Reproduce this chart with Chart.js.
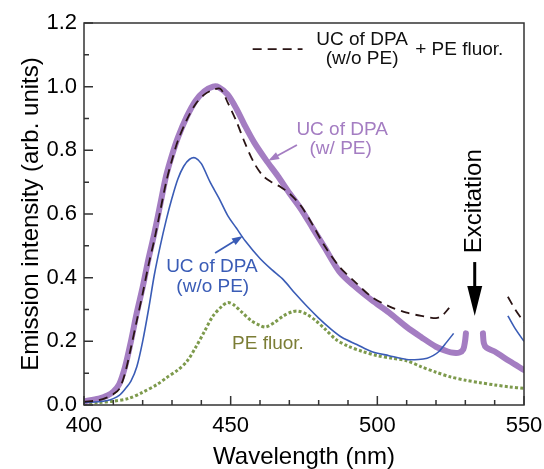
<!DOCTYPE html>
<html>
<head>
<meta charset="utf-8">
<script src="https://cdn.jsdelivr.net/npm/chart.js@4/dist/chart.umd.min.js"></script>
<style>
  html, body { margin: 0; padding: 0; background: #fff; }
  #wrap { width: 544px; height: 469px; position: relative; }
</style>
</head>
<body>
<div id="wrap"><canvas id="spectrum"></canvas></div>
<script>
// UC of DPA (w/ PE) - thick purple
const withPeWl = [400, 405, 408, 410, 412, 414, 416, 418, 420, 422, 424, 426, 428, 430, 432, 435, 438, 441, 444, 446, 449, 452, 455, 458, 462, 466, 470, 474, 478, 482, 487, 492, 498, 504, 510, 515, 520, 524, 526, 528, 529.3, 529.9, 530.2, 533, 536, 536.3, 537.2, 540, 545, 550];
const withPeVal = [0.012, 0.02, 0.03, 0.042, 0.065, 0.12, 0.2, 0.29, 0.37, 0.46, 0.54, 0.63, 0.72, 0.785, 0.84, 0.905, 0.955, 0.985, 1.0, 0.998, 0.975, 0.93, 0.875, 0.825, 0.77, 0.72, 0.666, 0.615, 0.555, 0.495, 0.42, 0.375, 0.33, 0.29, 0.245, 0.213, 0.183, 0.168, 0.164, 0.165, 0.175, 0.2, 0.225, null, 0.225, 0.195, 0.18, 0.168, 0.138, 0.11];

// UC of DPA (w/o PE) + PE fluor. - dashed
const sumWl = [400, 405, 408, 410, 412, 414, 416, 418, 420, 422, 424, 426, 428, 430, 432, 435, 438, 441, 444, 446.5, 449, 452, 455, 458, 461, 464, 467, 470, 474, 478, 482, 487, 492, 498, 504, 510, 515, 520, 522, 524.5, 535, 544.5, 547, 550];
const sumVal = [0.01, 0.015, 0.024, 0.034, 0.05, 0.1, 0.18, 0.265, 0.35, 0.44, 0.52, 0.61, 0.7, 0.77, 0.83, 0.895, 0.945, 0.975, 0.99, 0.993, 0.95, 0.89, 0.82, 0.76, 0.72, 0.7, 0.685, 0.665, 0.625, 0.565, 0.5, 0.435, 0.39, 0.34, 0.31, 0.29, 0.28, 0.273, 0.28, 0.305, null, 0.34, 0.3, 0.26];

// UC of DPA (w/o PE) - thin blue
const withoutPeWl = [400, 405, 408, 410, 412, 414, 416, 418, 420, 422, 424, 426, 428, 430, 432, 434, 436, 438, 440, 443, 446, 449, 452, 455, 460, 464, 468, 472, 476, 480, 484, 488, 493, 498, 504, 510, 514, 517, 519, 521, 523, 526, 535, 544.5, 547, 550];
const withoutPeVal = [0.008, 0.01, 0.014, 0.02, 0.03, 0.05, 0.075, 0.12, 0.2, 0.3, 0.41, 0.5, 0.58, 0.65, 0.71, 0.75, 0.772, 0.776, 0.758, 0.7, 0.65, 0.595, 0.555, 0.515, 0.46, 0.425, 0.393, 0.35, 0.31, 0.273, 0.24, 0.212, 0.19, 0.168, 0.155, 0.143, 0.143, 0.147, 0.155, 0.168, 0.19, 0.225, null, 0.28, 0.24, 0.2];

// PE fluor. - green dotted
const peWl = [400, 405, 410, 415, 420, 425, 428, 432, 435, 438, 441, 444, 447, 449, 451, 454, 457, 460, 462, 465, 468, 471, 473, 476, 479, 482, 486, 490, 495, 500, 505, 510, 515, 520, 525, 530, 535, 540, 545, 550];
const peVal = [0.005, 0.008, 0.012, 0.02, 0.04, 0.065, 0.085, 0.11, 0.136, 0.18, 0.23, 0.28, 0.31, 0.322, 0.315, 0.29, 0.265, 0.25, 0.245, 0.26, 0.28, 0.293, 0.295, 0.285, 0.265, 0.24, 0.205, 0.185, 0.168, 0.155, 0.147, 0.139, 0.12, 0.103, 0.088, 0.078, 0.07, 0.063, 0.057, 0.052];

const xTicks = [400, 450, 500, 550];
const yTicks = [0.0, 0.2, 0.4, 0.6, 0.8, 1.0, 1.2];

const FONT = "'Liberation Sans', Arial, sans-serif";
const PURPLE = "#a47dc2";
const BLUE = "#3a5cb6";
const DASH = "#2a1414";
const GREEN = "#7d9a4c";

function pts(xs, ys) {
  return xs.map((x, i) => ({ x: x, y: ys[i] }));
}

function arrow(ctx, x1, y1, x2, y2, color, head, width) {
  const a = Math.atan2(y2 - y1, x2 - x1);
  ctx.save();
  ctx.strokeStyle = color;
  ctx.fillStyle = color;
  ctx.lineWidth = width;
  ctx.beginPath();
  ctx.moveTo(x1, y1);
  ctx.lineTo(x2 - Math.cos(a) * head * 0.8, y2 - Math.sin(a) * head * 0.8);
  ctx.stroke();
  ctx.beginPath();
  ctx.moveTo(x2, y2);
  ctx.lineTo(x2 - head * Math.cos(a) + head * 0.35 * Math.sin(a), y2 - head * Math.sin(a) - head * 0.35 * Math.cos(a));
  ctx.lineTo(x2 - head * Math.cos(a) - head * 0.35 * Math.sin(a), y2 - head * Math.sin(a) + head * 0.35 * Math.cos(a));
  ctx.closePath();
  ctx.fill();
  ctx.restore();
}

const framePlugin = {
  id: "frame",
  afterDraw(chart) {
    const { ctx, chartArea: a, scales } = chart;
    ctx.save();
    ctx.strokeStyle = "#333";
    ctx.lineWidth = 1.5;
    ctx.strokeRect(a.left, a.top, a.right - a.left, a.bottom - a.top);
    ctx.beginPath();
    for (let w = 400; w <= 550; w += 10) {
      const x = scales.x.getPixelForValue(w);
      const len = w % 50 === 0 ? 9 : 5;
      ctx.moveTo(x, a.bottom);
      ctx.lineTo(x, a.bottom - len);
    }
    for (let k = 0; k <= 12; k++) {
      const y = scales.y.getPixelForValue(k / 10);
      const len = k % 2 === 0 ? 9 : 5;
      ctx.moveTo(a.left, y);
      ctx.lineTo(a.left + len, y);
    }
    ctx.stroke();
    ctx.restore();
  }
};

const notePlugin = {
  id: "notes",
  afterDatasetsDraw(chart) {
    const { ctx, scales } = chart;
    const px = (w) => scales.x.getPixelForValue(w);
    const py = (v) => scales.y.getPixelForValue(v);
    ctx.save();
    ctx.textBaseline = "middle";
    ctx.font = "19px " + FONT;

    // legend
    ctx.strokeStyle = DASH;
    ctx.lineWidth = 1.8;
    ctx.setLineDash([9, 6]);
    ctx.beginPath();
    ctx.moveTo(px(457.5), py(1.118));
    ctx.lineTo(px(474.5), py(1.118));
    ctx.stroke();
    ctx.setLineDash([]);
    ctx.fillStyle = "#111";
    ctx.textAlign = "center";
    ctx.fillText("UC of DPA", px(494.8), py(1.147));
    ctx.fillText("(w/o PE)", px(494.8), py(1.088));
    ctx.textAlign = "left";
    ctx.fillText("+ PE fluor.", px(512.9), py(1.115));

    // w/ PE label
    ctx.fillStyle = PURPLE;
    ctx.textAlign = "center";
    ctx.fillText("UC of DPA", px(488), py(0.864));
    ctx.fillText("(w/ PE)", px(487.5), py(0.806));
    arrow(ctx, px(472.6), py(0.817), px(462.8), py(0.767), PURPLE, 11, 1.8);

    // w/o PE label
    ctx.fillStyle = BLUE;
    ctx.fillText("UC of DPA", px(443.6), py(0.434));
    ctx.fillText("(w/o PE)", px(443.9), py(0.371));
    arrow(ctx, px(444.7), py(0.4775), px(454.2), py(0.531), BLUE, 11, 1.8);

    // PE fluor label
    ctx.fillStyle = "#7b7d35";
    ctx.fillText("PE fluor.", px(462.7), py(0.192));

    // excitation
    ctx.fillStyle = "#000";
    ctx.save();
    ctx.translate(px(533.2), py(0.64));
    ctx.rotate(-Math.PI / 2);
    ctx.font = "24px " + FONT;
    ctx.fillText("Excitation", 0, 0);
    ctx.restore();
    const ex = px(533.2);
    ctx.fillRect(ex - 1.5, py(0.449), 3, py(0.36) - py(0.449));
    ctx.beginPath();
    ctx.moveTo(ex - 7.5, py(0.374));
    ctx.lineTo(ex + 7.5, py(0.374));
    ctx.lineTo(ex, py(0.28));
    ctx.closePath();
    ctx.fill();
    ctx.restore();
  }
};

new Chart(document.getElementById("spectrum"), {
  type: "line",
  data: {
    datasets: [
      {
        label: "UC of DPA (w/o PE) + PE fluor.",
        data: pts(sumWl, sumVal),
        borderColor: DASH,
        borderWidth: 1.8,
        borderDash: [9, 6],
        order: 0
      },
      {
        label: "UC of DPA (w/o PE)",
        data: pts(withoutPeWl, withoutPeVal),
        borderColor: BLUE,
        borderWidth: 1.6,
        order: 1
      },
      {
        label: "UC of DPA (w/ PE)",
        data: pts(withPeWl, withPeVal),
        borderColor: PURPLE,
        borderWidth: 6,
        borderCapStyle: "round",
        borderJoinStyle: "round",
        order: 2
      },
      {
        label: "PE fluor.",
        data: pts(peWl, peVal),
        borderColor: GREEN,
        borderWidth: 3,
        borderDash: [3, 2.2],
        order: 3
      }
    ]
  },
  options: {
    responsive: true,
    maintainAspectRatio: false,
    animation: false,
    devicePixelRatio: 1,
    spanGaps: false,
    layout: { padding: { top: 23, right: 20, left: 0, bottom: 0 } },
    elements: {
      point: { radius: 0 },
      line: { tension: 0.3, fill: false }
    },
    plugins: { legend: { display: false }, tooltip: { enabled: false } },
    scales: {
      x: {
        type: "linear",
        min: 400,
        max: 550,
        grid: { display: false, drawTicks: false },
        border: { display: false },
        afterBuildTicks: (s) => { s.ticks = xTicks.map((v) => ({ value: v })); },
        afterFit: (s) => { s.height = 64; s.paddingLeft = 0; s.paddingRight = 0; },
        ticks: { color: "#000", padding: 8, maxRotation: 0, font: { family: FONT, size: 22 } },
        title: { display: true, text: "Wavelength (nm)", color: "#000", padding: 0, font: { family: FONT, size: 24, lineHeight: 1 } }
      },
      y: {
        min: 0,
        max: 1.2,
        grid: { display: false, drawTicks: false },
        border: { display: false },
        afterBuildTicks: (s) => { s.ticks = yTicks.map((v) => ({ value: v })); },
        afterFit: (s) => { s.width = 84; s.paddingTop = 0; s.paddingBottom = 0; },
        ticks: { color: "#000", padding: 7, font: { family: FONT, size: 22 }, callback: (v) => Number(v).toFixed(1) },
        title: { display: true, text: "Emission intensity (arb. units)", color: "#000", padding: { top: 19 }, font: { family: FONT, size: 24, lineHeight: 1 } }
      }
    }
  },
  plugins: [framePlugin, notePlugin]
});
</script>
</body>
</html>
